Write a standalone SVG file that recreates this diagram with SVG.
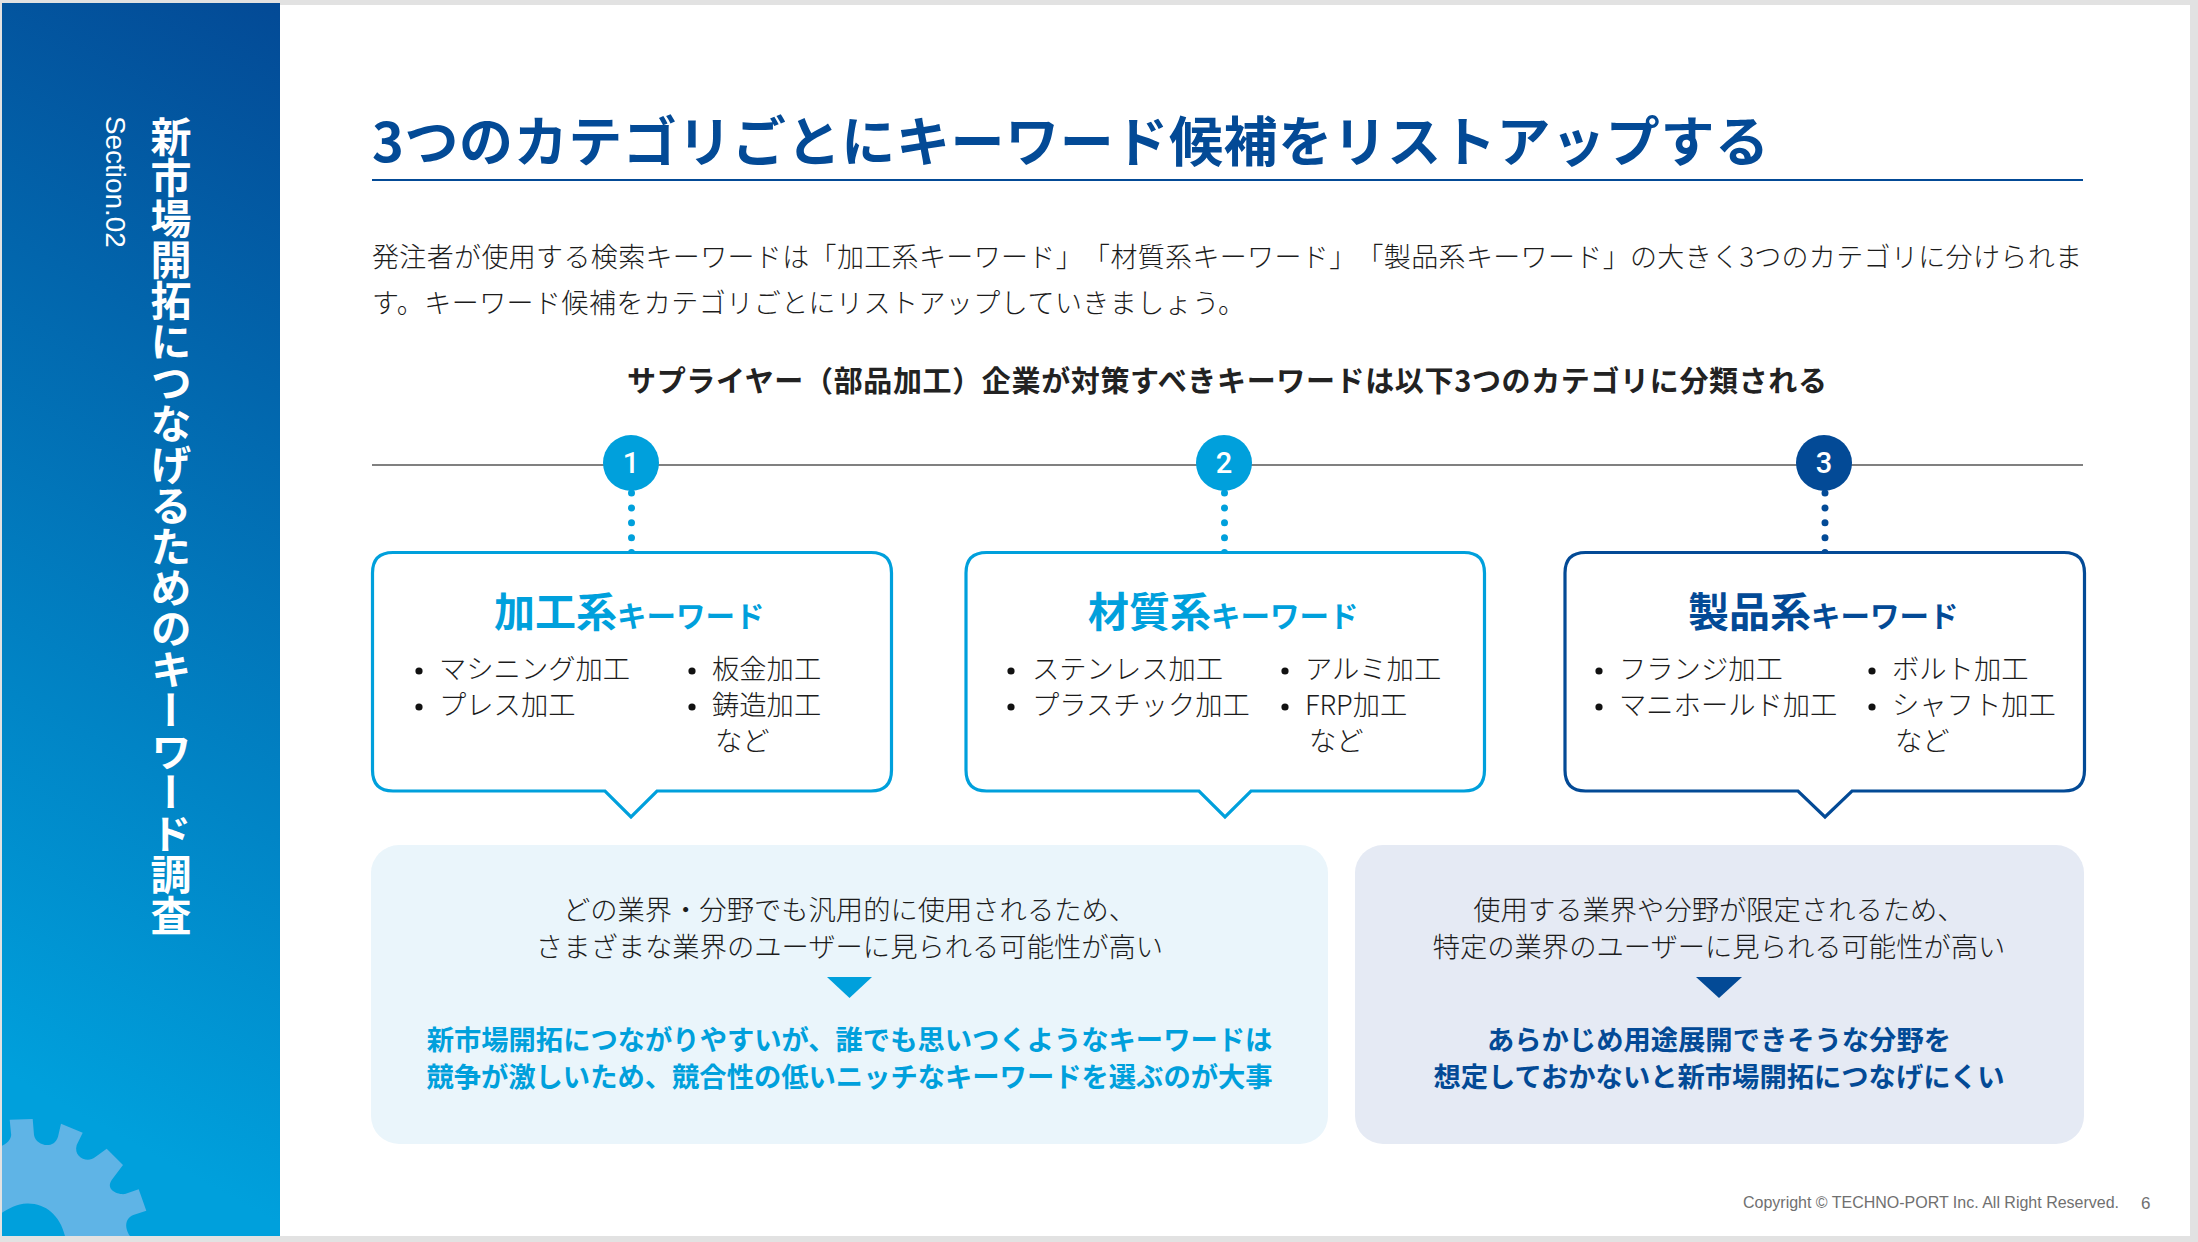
<svg xmlns="http://www.w3.org/2000/svg" width="2198" height="1242" viewBox="0 0 2198 1242">
<style>
text{font-family:"Noto Sans CJK JP","Noto Sans",sans-serif;text-spacing-trim:space-all}
.b{font-weight:700}
.body{font-size:27px;fill:#1c1c1c;font-weight:300}
.li{font-size:27.3px;fill:#1c1c1c;font-weight:300}
.mid{text-anchor:middle}
.num{font-size:29px;fill:#fff;text-anchor:middle;font-family:Roboto,"Liberation Sans",sans-serif;font-weight:500}
.big{font-size:41px;font-weight:700}
.small{font-size:29.5px;font-weight:700}
.dot{fill:#111}
.card{fill:#fff;stroke-width:3.2;stroke-linejoin:miter}
.dots{fill:none;stroke-width:7;stroke-linecap:round;stroke-dasharray:0 14.9}
.c1{fill:#00a0dc}.c3{fill:#034a96}
.s1{stroke:#00a0dc}.s3{stroke:#034a96}
</style>
<defs>
<linearGradient id="side" gradientUnits="userSpaceOnUse" x1="280" y1="3" x2="-236" y2="941">
<stop offset="0" stop-color="#034a96"/><stop offset="1" stop-color="#00a0dc"/>
</linearGradient>
<g id="bullets"><circle cx="0" cy="0" r="3.6" class="dot"/><circle cx="0" cy="36" r="3.6" class="dot"/></g>
</defs>
<rect width="2198" height="1242" fill="#e2e2e2"/>
<rect x="2" y="5" width="2188" height="1231" fill="#fff"/>
<g id="sidebar">
<rect x="2" y="3" width="278" height="1233" fill="url(#side)"/>
<path fill="#5fb4e6" d="M2 1145.7 C9 1143 12 1137 11 1133.3 L9.7 1119.7 L32.7 1119 L34 1135 C36 1146 54 1150 58 1136.7 L61 1123.7 L82.7 1132.7 L76.7 1145 C73 1158 88 1163 95 1157.3 L106.7 1148.7 L123 1165 L111.7 1180 C105 1190 118 1195 125 1194 L138.7 1189.3 L146.3 1210.7 L133.3 1215 C124 1219 125 1229 130 1236 L65 1236 C60 1215 45 1203 27 1203.5 C17 1203.5 8 1209 2 1212.7 Z"/>
<text class="b" font-size="41" fill="#fff" style="writing-mode:vertical-rl" x="171" y="116">新市場開拓につなげるためのキーワード調査</text>
<text font-size="27.9" fill="#fff" style="font-family:'Liberation Sans',sans-serif" transform="translate(106 116) rotate(90)">Section.02</text>
</g>
<g id="title">
<text class="b c3" font-size="54" x="372" y="162" textLength="1397">3つのカテゴリごとにキーワード候補をリストアップする</text>
<rect x="372" y="179" width="1711" height="2" fill="#034a96"/>
</g>
<g id="intro">
<text class="body" x="372" y="267" textLength="1710">発注者が使用する検索キーワードは「加工系キーワード」「材質系キーワード」「製品系キーワード」の大きく3つのカテゴリに分けられま</text>
<text class="body" x="372" y="313" textLength="873">す。キーワード候補をカテゴリごとにリストアップしていきましょう。</text>
<text class="b" font-size="29" fill="#222" x="627" y="392" textLength="1200">サプライヤー（部品加工）企業が対策すべきキーワードは以下3つのカテゴリに分類される</text>
</g>
<g id="connectors">
<line x1="372" y1="465" x2="2083" y2="465" stroke="#808080" stroke-width="2"/>
<path class="dots s1" d="M631.5 493V553"/>
<path class="dots s1" d="M1224.5 493V553"/>
<path class="dots s3" d="M1825 493V553"/>
</g>
<g id="step1"><circle cx="631" cy="463" r="28" class="c1"/><text class="num" x="631" y="473">1</text></g>
<g id="step2"><circle cx="1224" cy="463" r="28" class="c1"/><text class="num" x="1224" y="473">2</text></g>
<g id="step3"><circle cx="1824" cy="463" r="28" class="c3"/><text class="num" x="1824" y="473">3</text></g>
<g id="card1">
<path class="card s1" d="M393 552.5H871Q891.5 552.5 891.5 573V770Q891.5 791 871 791H657L631 817L605 791H393Q372.5 791 372.5 770V573Q372.5 552.5 393 552.5Z"/>
<text class="c1" x="494" y="627"><tspan class="big">加工系</tspan><tspan class="small">キーワード</tspan></text>
<use href="#bullets" x="419" y="671"/><use href="#bullets" x="692" y="671"/>
<text class="li" x="439" y="679">マシニング加工</text><text class="li" x="439" y="715">プレス加工</text>
<text class="li" x="712" y="679">板金加工</text><text class="li" x="712" y="715">鋳造加工</text><text class="li" x="715" y="751">など</text>
</g>
<g id="card2">
<path class="card s1" d="M986.5 552.5H1464Q1484.5 552.5 1484.5 573V770Q1484.5 791 1464 791H1251L1225 817L1199 791H986.5Q966 791 966 770V573Q966 552.5 986.5 552.5Z"/>
<text class="c1" x="1088" y="627"><tspan class="big">材質系</tspan><tspan class="small">キーワード</tspan></text>
<use href="#bullets" x="1011" y="671"/><use href="#bullets" x="1285" y="671"/>
<text class="li" x="1032" y="679">ステンレス加工</text><text class="li" x="1032" y="715">プラスチック加工</text>
<text class="li" x="1305" y="679">アルミ加工</text><text class="li" x="1305" y="715">FRP加工</text><text class="li" x="1309" y="751">など</text>
</g>
<g id="card3">
<path class="card s3" d="M1585.5 552.5H2064Q2084.5 552.5 2084.5 573V770Q2084.5 791 2064 791H1852L1825 817L1798 791H1585.5Q1565 791 1565 770V573Q1565 552.5 1585.5 552.5Z"/>
<text class="c3" x="1688" y="627"><tspan class="big">製品系</tspan><tspan class="small">キーワード</tspan></text>
<use href="#bullets" x="1599" y="671"/><use href="#bullets" x="1872" y="671"/>
<text class="li" x="1619" y="679">フランジ加工</text><text class="li" x="1619" y="715">マニホールド加工</text>
<text class="li" x="1892" y="679">ボルト加工</text><text class="li" x="1892" y="715">シャフト加工</text><text class="li" x="1895" y="751">など</text>
</g>
<g id="panel-left">
<rect x="371" y="845" width="957" height="299" rx="28" fill="#eaf5fb"/>
<text class="li mid" x="849.5" y="920">どの業界・分野でも汎用的に使用されるため、</text>
<text class="li mid" x="849.5" y="957">さまざまな業界のユーザーに見られる可能性が高い</text>
<path class="c1" d="M827 977H872L849.5 998Z"/>
<text class="b c1 mid" font-size="27.3" x="849.5" y="1050">新市場開拓につながりやすいが、誰でも思いつくようなキーワードは</text>
<text class="b c1 mid" font-size="27.3" x="849.5" y="1087">競争が激しいため、競合性の低いニッチなキーワードを選ぶのが大事</text>
</g>
<g id="panel-right">
<rect x="1355" y="845" width="729" height="299" rx="28" fill="#e5eaf4"/>
<text class="li mid" x="1719" y="920">使用する業界や分野が限定されるため、</text>
<text class="li mid" x="1719" y="957">特定の業界のユーザーに見られる可能性が高い</text>
<path class="c3" d="M1696 977H1742L1719 998Z"/>
<text class="b c3 mid" font-size="27.3" x="1719" y="1050">あらかじめ用途展開できそうな分野を</text>
<text class="b c3 mid" font-size="27.3" x="1719" y="1087">想定しておかないと新市場開拓につなげにくい</text>
</g>
<g id="footer">
<text font-size="16" fill="#707070" style="font-family:'Liberation Sans',sans-serif" x="1743" y="1208" textLength="376">Copyright © TECHNO-PORT Inc. All Right Reserved.</text>
<text font-size="17" fill="#707070" style="font-family:'Liberation Sans',sans-serif" x="2141" y="1209">6</text>
</g>
</svg>
